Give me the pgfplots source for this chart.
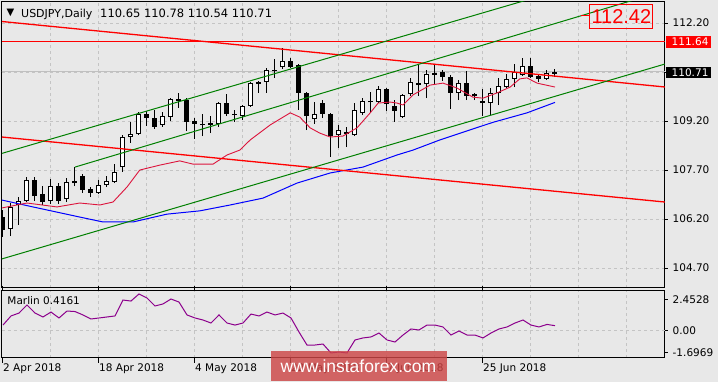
\documentclass[border=0pt]{standalone}
\usepackage{fontspec}
\setmainfont{DejaVu Sans}
\newfontfamily\arial{Liberation Sans}
\usepackage{pgfplots}
\pgfplotsset{compat=1.18}
\usepackage{pgfplotstable}
\definecolor{bg}{RGB}{232,232,232}
\definecolor{gridc}{RGB}{196,196,196}
\definecolor{chgreen}{RGB}{0,128,0}
\definecolor{crim}{RGB}{220,20,60}
\definecolor{marlin}{RGB}{140,0,140}
\definecolor{wm}{RGB}{205,70,70}
\definecolor{bidc}{RGB}{192,192,192}

\pgfplotstableread{
i O H L C
0 106.26 106.48 105.65 105.86
1 105.90 106.69 105.68 106.57
2 106.63 106.87 106.02 106.75
3 106.76 107.49 106.72 107.39
4 107.39 107.49 106.75 106.90
5 106.97 107.21 106.63 106.72
6 106.75 107.43 106.66 107.21
7 107.21 107.30 106.66 106.75
8 106.81 107.46 106.72 107.33
9 107.30 107.79 107.21 107.36
10 107.52 107.58 107.00 107.09
11 107.12 107.18 106.87 107.00
12 107.00 107.39 106.97 107.24
13 107.24 107.52 107.18 107.36
14 107.33 107.88 107.30 107.64
15 107.79 108.77 107.64 108.71
16 108.71 109.17 108.53 108.80
17 108.80 109.48 108.77 109.42
18 109.42 109.51 109.05 109.29
19 109.29 109.54 108.96 109.02
20 109.08 109.48 109.02 109.35
21 109.32 109.90 109.20 109.87
22 109.87 110.06 109.60 109.81
23 109.84 109.90 108.89 109.17
24 109.20 109.29 108.65 109.11
25 109.11 109.42 108.74 109.08
26 109.14 109.35 108.83 109.09
27 109.11 109.78 109.02 109.75
28 109.75 110.03 109.35 109.42
29 109.42 109.54 109.17 109.38
30 109.35 109.69 109.23 109.66
31 109.66 110.39 109.63 110.36
32 110.39 110.42 110.06 110.33
33 110.39 110.82 110.06 110.76
34 110.75 111.10 110.52 110.73
35 110.85 111.44 110.79 111.04
36 111.04 111.13 110.82 110.85
37 110.92 110.95 109.54 110.06
38 110.06 110.09 108.92 109.35
39 109.26 109.78 109.11 109.42
40 109.75 109.84 109.29 109.42
41 109.42 109.45 108.10 108.74
42 108.77 109.08 108.37 108.92
43 108.86 109.02 108.40 108.80
44 108.77 109.75 108.74 109.54
45 109.45 109.90 109.38 109.81
46 109.81 110.09 109.48 109.77
47 109.78 110.27 109.75 110.18
48 110.18 110.21 109.51 109.72
49 109.66 109.84 109.17 109.51
50 109.32 110.03 109.29 110.00
51 110.03 110.52 109.97 110.39
52 110.36 110.95 109.97 110.30
53 110.33 110.76 109.90 110.64
54 110.67 110.92 110.30 110.62
55 110.70 110.75 110.43 110.55
56 110.55 110.60 109.57 110.06
57 110.06 110.46 109.84 110.36
58 110.36 110.73 109.84 109.97
59 110.03 110.06 109.84 109.97
60 109.81 110.18 109.35 109.75
61 109.75 110.21 109.38 110.06
62 110.06 110.52 109.69 110.27
63 110.24 110.64 110.21 110.49
64 110.49 110.95 110.24 110.70
65 110.61 111.13 110.58 110.88
66 110.88 111.13 110.53 110.55
67 110.58 110.64 110.39 110.49
68 110.49 110.76 110.46 110.67
69 110.65 110.78 110.54 110.71
}\candles

\pgfplotstableread{
i v
0 0.47
1 1.19
2 1.42
3 2.06
4 1.42
5 1.11
6 1.50
7 1.03
8 1.58
9 1.54
10 1.27
11 0.95
12 1.03
13 1.11
14 1.19
15 2.45
16 2.37
17 2.93
18 2.61
19 1.98
20 2.14
21 2.53
22 2.29
23 1.27
24 1.03
25 0.87
26 0.63
27 1.27
28 0.63
29 0.47
30 0.63
31 1.34
32 1.19
33 1.50
34 1.27
35 1.42
36 1.03
37 -0.08
38 -1.11
39 -1.11
40 -1.03
41 -1.74
42 -1.66
43 -1.74
44 -0.71
45 -0.55
46 -0.47
47 -0.16
48 -0.71
49 -0.87
50 -0.32
51 0.16
52 0.08
53 0.47
54 0.47
55 0.32
56 -0.32
57 0.00
58 -0.32
59 -0.32
60 -0.55
61 -0.16
62 0.16
63 0.32
64 0.63
65 0.87
66 0.47
67 0.32
68 0.52
69 0.42
}\marlin

\begin{document}
\begin{tikzpicture}[x=1pt,y=1pt]
\fill[bg] (0,0) rectangle (718,382);

% ---------------- main price panel ----------------
\begin{axis}[
  at={(2pt,94pt)}, anchor=south west, scale only axis,
  width=663pt, height=286pt,
  xmin=-0.125, xmax=82.75, ymin=104.089, ymax=112.843,
  axis line style={black, line width=1pt},
  xtick={6,12,...,78}, xticklabels={}, xtick style={draw=none},
  ytick={104.7,106.2,107.7,109.2,110.7,112.2},
  yticklabels={104.70,106.20,107.70,109.20,110.70,112.20},
  ytick pos=right, yticklabel pos=right, tick align=outside, major tick length=3pt,
  yticklabel style={anchor=west, inner sep=0pt, font=\fontsize{10.5}{12}\selectfont, xshift=4.5pt},
  ytick style={draw=black, line width=1pt},
  grid=major, major grid style={gridc, dash pattern=on 3pt off 3pt, line width=1pt},
]
% bid line
\addplot[bidc, line width=1pt] coordinates {(-1,110.71) (90,110.71)};
% candles: wicks
\addplot[draw=none, mark=none, error bars/.cd, y dir=plus, y explicit, error mark=none,
  error bar style={draw=black, line width=1pt}]
  table[x=i, y=L, y error expr=\thisrow{H}-\thisrow{L}] {\candles};
% bodies (black)
\addplot[draw=none, mark=none, error bars/.cd, y dir=plus, y explicit, error mark=none,
  error bar style={draw=black, line width=5pt}]
  table[x=i, y expr={min(\thisrow{O},\thisrow{C})}, y error expr={max(abs(\thisrow{C}-\thisrow{O}),0.03)}] {\candles};
% bodies (white interior for bullish)
\addplot[draw=none, mark=none, error bars/.cd, y dir=plus, y explicit, error mark=none,
  error bar style={draw=white, line width=3pt}]
  table[x=i, y expr={min(\thisrow{O},\thisrow{C})+0.031}, y error expr={(\thisrow{C}>\thisrow{O})*max(abs(\thisrow{C}-\thisrow{O})-0.062,0)}] {\candles};
% moving averages
\addplot[blue, line width=1pt] coordinates {
(-0.125,106.78) (3.75,106.57) (9.6,106.26) (12.5,106.11) (16.25,106.11) (20.5,106.35)
(24.6,106.45) (28.4,106.63) (32.5,106.84) (36.75,107.30) (40.9,107.61) (45,107.79)
(49.25,108.16) (51.25,108.31) (54.6,108.62) (58.4,108.93) (61.25,109.16) (65.5,109.45) (69,109.77)};
\addplot[crim, line width=0.9pt] coordinates {
(-0.125,106.54) (3,106.69) (6.75,106.57) (9.6,106.69) (12.1,106.63) (13.75,106.72)
(15.5,107.18) (17.1,107.70) (19.6,107.85) (22.1,107.98) (23.75,107.88) (26.25,107.88)
(28,108.16) (29.6,108.31) (30.9,108.62) (33.4,109.08) (35.9,109.45) (37.1,109.32)
(38.4,108.99) (39.6,108.83) (40.9,108.71) (42.5,108.74) (44.25,108.99) (45.9,109.45)
(46.9,109.75) (48.4,109.78) (49.25,109.75) (50,109.69) (51.25,110.00) (53.4,110.30)
(55,110.36) (56.75,110.21) (58.75,109.93) (60,109.90) (61.75,110.06) (63.4,110.24)
(64.6,110.49) (65.5,110.52) (66.75,110.36) (69,110.24)};
% red channel lines
\addplot[red, line width=1.3pt] coordinates {(-0.125,112.246) (82.75,110.241)};
\addplot[red, line width=1.3pt] coordinates {(-0.125,108.71) (82.75,106.72)};
\addplot[red, line width=1.3pt] coordinates {(-0.125,111.64) (82.75,111.64)};
% green channel lines
\addplot[chgreen, line width=1pt] coordinates {(-0.125,108.21) (82.75,114.14)};
\addplot[chgreen, line width=1pt] coordinates {(9,107.79) (82.75,113.19)};
\addplot[chgreen, line width=1pt] coordinates {(-0.125,104.98) (82.75,110.945)};
% target label connector
\addplot[red, line width=1pt] coordinates {(72.2,112.42) (73.4,112.42)};
\node[draw=red, line width=1pt, text=red, font=\arial\fontsize{20}{22}\selectfont,
  minimum width=63pt, minimum height=24pt, inner sep=0pt] at (axis cs:77.3,112.41) {112.42};
\end{axis}

% ---------------- Marlin panel ----------------
\begin{axis}[
  at={(2pt,24pt)}, anchor=south west, scale only axis,
  width=663pt, height=67pt,
  xmin=-0.125, xmax=82.75, ymin=-2.136, ymax=3.165,
  axis line style={black, line width=1pt},
  xtick={6,12,...,78}, xticklabels={}, xtick style={draw=none},
  xmajorgrids, major grid style={gridc, dash pattern=on 3pt off 3pt, line width=1pt},
  extra x ticks={0,12,24,36,48,60},
  extra x tick labels={2 Apr 2018,18 Apr 2018,4 May 2018,22 May 2018,7 Jun 2018,25 Jun 2018},
  extra x tick style={xmajorgrids=false, xtick style={draw=black, line width=1pt}, major tick length=5pt, tick align=outside,
    xticklabel style={anchor=north west, inner sep=0pt, font=\fontsize{10.5}{12}\selectfont, yshift=-1pt}},
  ytick={-1.6969,2.4528}, yticklabels={-1.6969,2.4528},
  extra y ticks={0}, extra y tick labels={0.00},
  extra y tick style={ymajorgrids=true},
  ytick pos=right, yticklabel pos=right, tick align=outside, major tick length=3pt,
  yticklabel style={anchor=west, inner sep=0pt, font=\fontsize{10.5}{12}\selectfont, xshift=4.5pt},
  ytick style={draw=black, line width=1pt},
]
\addplot[marlin, line width=1pt] table[x=i, y=v] {\marlin};
\end{axis}

% ---------------- texts ----------------
\node[anchor=base west, inner sep=0pt, font=\fontsize{10}{12}\selectfont] at (6.5,366) {▼};
\node[anchor=base west, inner sep=0pt, font=\fontsize{11}{13}\selectfont] at (21,364.7) {USDJPY,Daily};
\node[anchor=base west, inner sep=0pt, font=\fontsize{11.5}{13}\selectfont] at (100,364.7) {110.65 110.78 110.54 110.71};
\node[anchor=base west, inner sep=0pt, font=\fontsize{10.5}{12}\selectfont] at (7.3,77) {Marlin 0.4161};

% right-side price labels
\fill[red] (666,333.7) rectangle (711,346);
\node[anchor=base west, inner sep=0pt, text=white, font=\fontsize{10.5}{12}\selectfont] at (671.5,336) {111.64};
\fill[black] (666,303.7) rectangle (711,315.3);
\node[anchor=base west, inner sep=0pt, text=white, font=\fontsize{10.5}{12}\selectfont] at (671.5,305.6) {110.71};

% watermark
\fill[wm, opacity=0.82] (270.7,1) rectangle (447,31);
\node[text=white, font=\arial\fontsize{17.5}{20}\selectfont, inner sep=0pt] at (358.5,16) {www.instaforex.com};

\pgfresetboundingbox
\path[use as bounding box] (0,0) rectangle (718,382);
\end{tikzpicture}
\end{document}
